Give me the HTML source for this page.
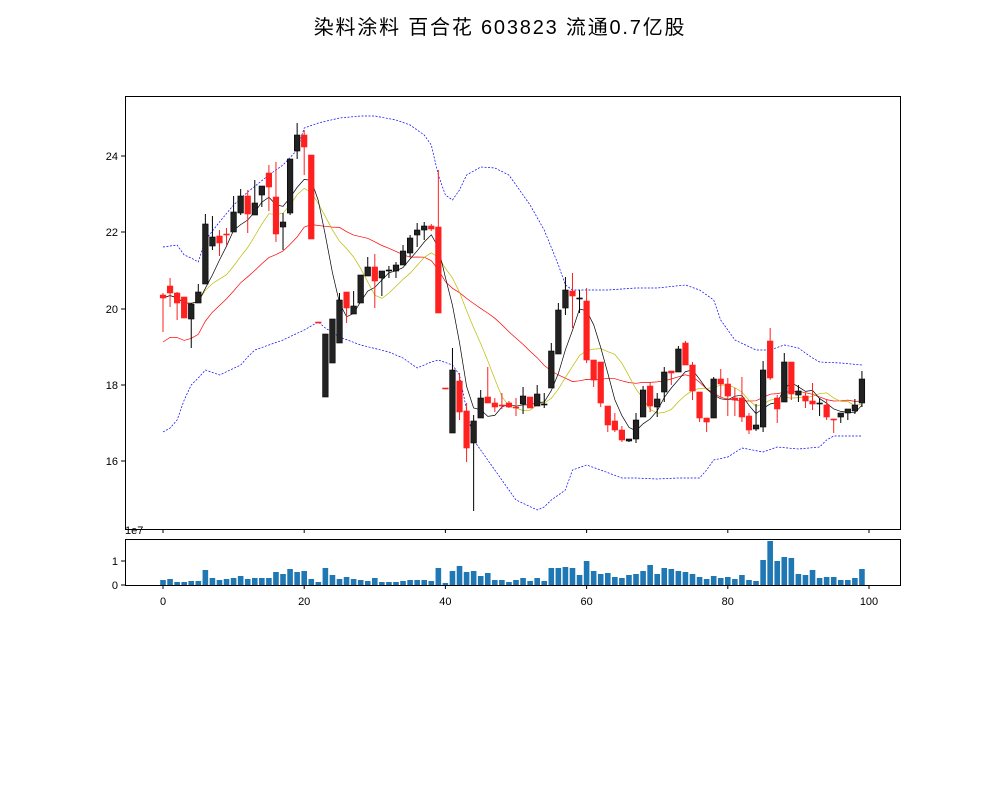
<!DOCTYPE html>
<html><head><meta charset="utf-8"><style>
html,body{margin:0;padding:0;background:#fff;width:1000px;height:800px;overflow:hidden}
text{font-family:"Liberation Sans","Noto Sans CJK SC","WenQuanYi Zen Hei",sans-serif}
</style></head><body>
<svg id="s" width="1000" height="800" xmlns="http://www.w3.org/2000/svg">
<text x="500" y="34" font-size="20" text-anchor="middle" letter-spacing="1.8" font-family="'WenQuanYi Zen Hei','Noto Sans CJK SC',sans-serif">染料涂料 百合花 603823 流通0.7亿股</text>
</svg>
<script>
var C=[
['r',295,298,293,332],['r',286,293,278,307],['r',293,303,292,320],['r',297,318,297,318],['b',304,319,303,348],
['b',292,303,284,303],['b',224,284,214,284],['b',237,246,216,250],['r',236,243,230,256],['r',234,235,228,245],
['b',212,232,196,232],['b',196,213,189,215],['r',196,214,190,233],['b',203,215,180,215],['b',186,195,186,207],
['r',173,187,165,211],['r',197,234,162,242],['b',222,227,213,250],['b',159,213,159,215],['b',135,151,123,159],
['r',135,147,130,175],['r',155,239,155,239],['r',322,323,322,323],['b',334,397,334,397],['b',319,363,319,363],
['b',300,343,293,343],['r',292,308,292,323],['b',306,314,291,314],['b',275,303,275,303],['b',267,276,257,276],
['r',267,281,254,308],['b',271,278,271,296],['b',270,271,266,278],['b',265,271,262,278],['b',251,265,245,265],
['b',238,253,235,257],['b',230,235,223,247],['b',226,230,222,240],['r',226,229,224,231],['r',227,313,170,313],
['r',388,389,388,389],['b',370,433,348,433],['r',381,412,373,420],['r',411,448,403,462],['b',421,443,415,511],
['b',398,418,390,418],['r',397,403,367,403],['r',403,407,398,412],['r',405,406,393,409],['r',403,407,401,408],
['r',407,408,398,416],['b',396,404,387,414],['r',397,408,397,408],['b',394,406,385,406],['b',404,405,393,408],
['b',351,388,343,388],['b',310,354,303,354],['b',290,308,277,315],['r',291,296,273,328],['b',298,299,290,313],
['r',301,360,288,363],['r',360,380,360,387],['r',362,403,362,407],['r',406,425,406,432],['r',421,430,413,432],
['r',430,440,426,442],['b',439,441,439,442],['b',420,439,413,443],['b',390,417,386,417],['r',386,406,382,412],
['b',399,407,393,417],['b',372,392,367,402],['r',371,373,371,385],['b',349,372,346,372],['r',343,365,341,365],
['r',365,391,362,400],['r',392,418,392,422],['r',418,422,418,432],['b',379,418,377,418],['r',379,384,369,397],
['r',384,396,378,416],['r',398,400,388,416],['r',398,417,377,422],['r',416,430,413,434],['b',425,429,404,431],
['b',370,427,361,432],['r',341,378,328,380],['r',398,409,395,423],['b',362,402,353,402],['r',362,394,362,400],
['b',391,395,385,402],['r',396,401,393,408],['r',401,404,383,410],['b',403,404,398,416],['r',405,417,400,420],
['r',419,420,419,433],['b',413,417,413,423],['b',409,413,409,420],['b',405,411,399,414],['b',379,403,371,407]];
var V=[5,6,3,3,4,4,15,7,5,6,7,9,6,7,7,7,13,11,16,13,14,6,3,17,10,6,8,6,5,4,7,3,3,3,4,5,5,5,4,17,2,14,19,13,14,9,12,5,5,3,
5,7,4,7,4,17,17,18,17,10,24,14,11,12,8,7,10,11,14,20,11,17,16,14,13,11,8,6,9,7,8,6,10,5,4,25,44,24,28,27,11,10,15,7,8,8,5,5,7,16];
var UP=[[0,247],[1,246],[2,245],[3,255],[4,258],[5,262],[6,240],[8,222],[10,205],[12,192],[15,175],[17,165],[19,150],[20,128],[22,123],[25,118],[28,116],[30,116],[33,120],[35,125],[37,135],[38,145],[39,175],[40,195],[41,200],[42,190],[43,175],[45,167],[47,168],[49,175],[50,185],[52,205],[54,230],[56,265],[57,285],[58,290],[60,290],[63,290],[67,288],[70,288],[74,285],[76,290],[78,300],[79,320],[81,340],[84,350],[86,350],[88,345],[90,348],[92,358],[93,362],[96,363],[99,365]];
var LO=[[0,432],[1,428],[2,420],[3,400],[4,385],[5,378],[6,370],[8,375],[11,365],[12,357],[13,350],[15,345],[17,340],[20,330],[22,322],[23,328],[25,337],[28,345],[32,352],[34,358],[36,368],[38,362],[39,360],[41,365],[42,375],[43,410],[44,440],[47,470],[50,500],[53,510],[54,507],[55,500],[57,490],[58,470],[60,465],[62,470],[65,478],[67,478],[70,479],[73,478],[76,478],[77,470],[78,460],[80,457],[82,448],[85,452],[87,447],[90,449],[93,447],[94,440],[95,436],[99,436]];
function X(i){return 163+7.06*i}
var h='';
h+='<rect x="125.5" y="96.5" width="775" height="433" fill="none" stroke="#000" stroke-width="1"/>';
h+='<rect x="125.5" y="539.5" width="775" height="46" fill="none" stroke="#000" stroke-width="1"/>';
[[16,461],[18,385],[20,309],[22,232],[24,156]].forEach(function(t){h+='<line x1="121" x2="125" y1="'+t[1]+'" y2="'+t[1]+'" stroke="#000"/><text x="118" y="'+(t[1]+4)+'" font-size="11" text-anchor="end">'+t[0]+'</text>';});
[[0,585],[1,561]].forEach(function(t){h+='<line x1="121" x2="125" y1="'+t[1]+'" y2="'+t[1]+'" stroke="#000"/><text x="118" y="'+(t[1]+4)+'" font-size="11" text-anchor="end">'+t[0]+'</text>';});
h+='<text x="125" y="534" font-size="11">1e7</text>';
for(var k=0;k<=100;k+=20){var xx=X(k);h+='<line x1="'+xx+'" x2="'+xx+'" y1="529" y2="533" stroke="#000"/><line x1="'+xx+'" x2="'+xx+'" y1="585" y2="589" stroke="#000"/><text x="'+xx+'" y="605" font-size="11" text-anchor="middle">'+k+'</text>';}
V.forEach(function(v,i){h+='<rect x="'+(X(i)-2.8)+'" y="'+(585-v)+'" width="5.6" height="'+v+'" fill="#1f77b4"/>';});
function pl(a,c,w,d){return '<polyline fill="none" stroke="'+c+'" stroke-width="'+w+'"'+(d?' stroke-dasharray="'+d+'"':'')+' points="'+a.map(function(p){return X(p[0]).toFixed(1)+','+p[1]}).join(' ')+'"/>';}
h+=pl(UP,'#0000ff',0.7,'2,1.5');h+=pl(LO,'#0000ff',0.7,'2,1.5');
var cl=C.map(function(c){return c[0]=='b'?c[1]:c[2]});
function ma(n){var o=[];for(var i=0;i<cl.length;i++){var s=0,m=0;for(var j=Math.max(0,i-n+1);j<=i;j++){s+=cl[j];m++}o.push([i,(s/m).toFixed(1)]);}return o;}
var m20=ma(20);m20=m20.map(function(p,i){return i<20?[i,(+p[1])+(20-i)*2.2]:p});
h+=pl(m20,'#ff0000',0.7);h+=pl(ma(10),'#bbbb00',0.7);h+=pl(ma(5),'#000',0.7);
C.forEach(function(c,i){var x=X(i),col=c[0]=='b'?'#222':'#ff2020',st=c[0]=='b'?'#000':'#ff2020';
h+='<line x1="'+x+'" x2="'+x+'" y1="'+c[3]+'" y2="'+c[4]+'" stroke="'+st+'" stroke-width="1"/>';
var hh=Math.max(1,c[2]-c[1]);h+='<rect x="'+(x-2.8)+'" y="'+c[1]+'" width="5.6" height="'+hh+'" fill="'+col+'" stroke="'+st+'" stroke-width="0.6"/>';});
document.getElementById('s').insertAdjacentHTML('beforeend',h);
</script>
</body></html>
